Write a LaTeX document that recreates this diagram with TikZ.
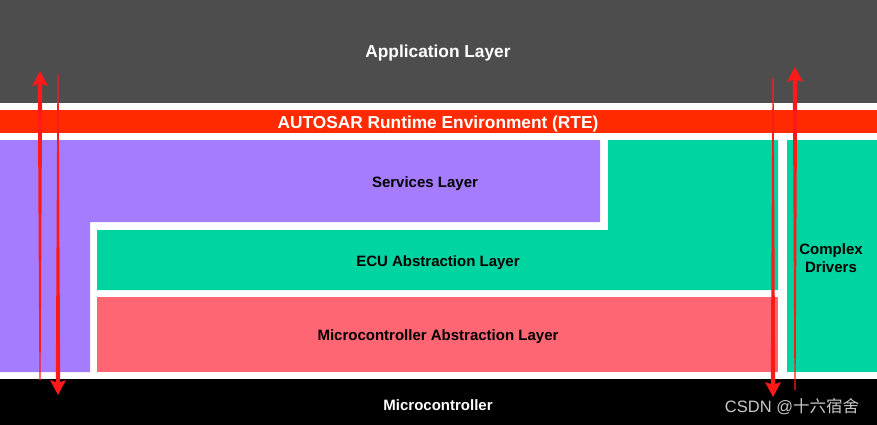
\documentclass[tikz,border=0pt]{standalone}
\usepackage{fontspec}
\setmainfont{Liberation Sans}
\newfontfamily\cjk{Noto Sans CJK SC}
\definecolor{appgray}{HTML}{4D4D4D}
\definecolor{rtered}{HTML}{FF2A00}
\definecolor{svcpurple}{HTML}{A67CFF}
\definecolor{ecugreen}{HTML}{00D4A0}
\definecolor{mcalpink}{HTML}{FF6673}
\definecolor{arrowred}{HTML}{FF1A1A}
\definecolor{markgray}{HTML}{C8C8C8}
\tikzset{
  bigtext/.style={font=\fontsize{17.3}{20}\selectfont\bfseries},
  laytext/.style={font=\fontsize{15}{18}\selectfont\bfseries},
}
% tapered arrows: x, thin end y, tip y
\newcommand{\taperup}[3]{%
  \fill[arrowred] (#1-0.6,#2) -- (#1-2.2,#3+13) -- (#1-8,#3+15) -- (#1,#3)
    -- (#1+8,#3+15) -- (#1+2.2,#3+13) -- (#1+0.6,#2) -- cycle;}
\newcommand{\taperdown}[3]{%
  \fill[arrowred] (#1-0.6,#2) -- (#1-2.2,#3-13) -- (#1-8,#3-15) -- (#1,#3)
    -- (#1+8,#3-15) -- (#1+2.2,#3-13) -- (#1+0.6,#2) -- cycle;}
\begin{document}
\begin{tikzpicture}[x=1pt,y=-1pt]
  \useasboundingbox (0,0) rectangle (877,425);
  % layers
  \fill[appgray] (0,0) rectangle (877,103);
  \fill[rtered] (0,110) rectangle (877,133);
  \fill[svcpurple] (0,140) -- (600,140) -- (600,222) -- (90,222) -- (90,372) -- (0,372) -- cycle;
  \fill[ecugreen] (608,140) -- (778,140) -- (778,290) -- (97,290) -- (97,230) -- (608,230) -- cycle;
  \fill[mcalpink] (97,297) rectangle (778,372);
  \fill[ecugreen] (787,140) rectangle (877,372);
  \fill[black] (0,379) rectangle (877,425);
  % labels
  \node[bigtext,white] (app) at (438,53) {Application Layer};
  \node[bigtext,white] (rte) at (438,124) {AUTOSAR Runtime Environment (RTE)};
  \node[laytext] (svc) at (425,184) {Services Layer};
  \node[laytext] (ecu) at (438,263) {ECU Abstraction Layer};
  \node[laytext] (mcal) at (438,337) {Microcontroller Abstraction Layer};
  \node[laytext,align=center] (cdd) at (831,258) {Complex\\Drivers};
  \node[laytext,white] (mcu) at (438,405) {Microcontroller};
  \node[markgray,font=\fontsize{16.5}{18}\selectfont] (mark) at (792,407) {CSDN @{\cjk 十六宿舍}};
  % arrows
  \taperup{40}{380}{71}
  \taperdown{58}{75}{395}
  \taperup{795}{390}{67}
  \taperdown{773}{78}{397}
\end{tikzpicture}
\end{document}
